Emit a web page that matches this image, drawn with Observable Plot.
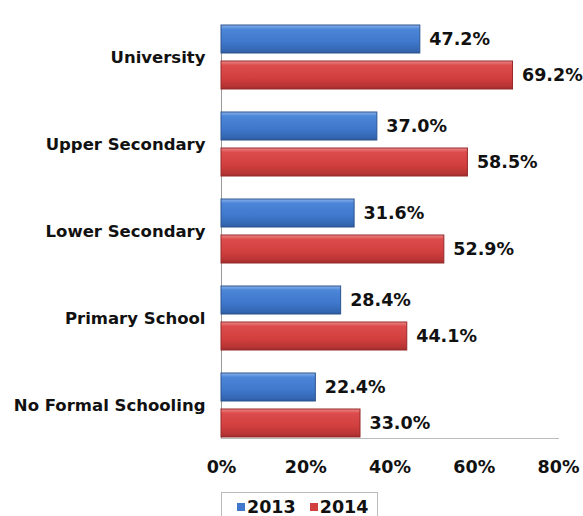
<!DOCTYPE html>
<html>
<head>
<meta charset="utf-8">
<script src="https://cdn.jsdelivr.net/npm/d3@7"></script>
<script src="https://cdn.jsdelivr.net/npm/@observablehq/plot@0.6"></script>
<style>
  html, body { margin: 0; padding: 0; background: #fff; }
  #wrap { position: relative; width: 583px; height: 516px; overflow: hidden; font-family: "DejaVu Sans", Verdana, sans-serif; }
  #legend { position: absolute; left: 221px; top: 492px; width: 157px; height: 30px; border: 1px solid #bbb; box-sizing: border-box; font-weight: bold; font-size: 17.5px; display: flex; align-items: center; padding-left: 15px; gap: 14px; color: #111; }
  .sw { display: inline-block; width: 8px; height: 8px; margin-right: 2px; vertical-align: middle; position: relative; top: -1px; }
</style>
</head>
<body>
<div id="wrap">
  <div id="chart"></div>
  <div id="legend"></div>
</div>
<script>
const categories = ["University", "Upper Secondary", "Lower Secondary", "Primary School", "No Formal Schooling"];
const years = ["2013", "2014"];
const values2013 = [47.2, 37.0, 31.6, 28.4, 22.4];
const values2014 = [69.2, 58.5, 52.9, 44.1, 33.0];
const xTicks = [0, 20, 40, 60, 80];
const colors = { "2013": "#3f78cc", "2014": "#d23f3f" };
const strokeColors = { "2013": "#2c5590", "2014": "#962a2a" };

const data = [];
categories.forEach((c, i) => {
  data.push({ category: c, year: "2013", value: values2013[i] });
  data.push({ category: c, year: "2014", value: values2014[i] });
});

const font = "DejaVu Sans, Verdana, sans-serif";

const chart = Plot.plot({
  width: 583,
  height: 492,
  marginLeft: 221,
  marginRight: 25,
  marginTop: 14,
  marginBottom: 42,
  style: { fontFamily: font, background: "transparent" },
  x: { domain: [0, 80], ticks: xTicks, axis: null },
  fy: { domain: categories, paddingInner: 0.25, paddingOuter: 0.125, label: null, axis: null },
  y: { domain: years, paddingInner: 0.22, paddingOuter: 0, axis: null },
  marks: [
    Plot.axisFy({ anchor: "left", tickSize: 0, tickPadding: 16, fontSize: 16.5, fontWeight: "bold", fill: "#111", label: null }),
    Plot.frame({ anchor: "left", stroke: "#999", facet: "super" }),
    Plot.frame({ anchor: "bottom", stroke: "#bbb", facet: "super" }),
    Plot.barX(data, {
      fy: "category", y: "year", x: "value",
      fill: d => d.year === "2013" ? "url(#grad2013)" : "url(#grad2014)",
      stroke: d => strokeColors[d.year], strokeWidth: 1
    }),
    Plot.text(data, {
      fy: "category", y: "year", x: "value",
      text: d => d.value.toFixed(1) + "%",
      textAnchor: "start", dx: 9, fontSize: 17.5, fontWeight: "bold", fill: "#111"
    }),
    Plot.axisX({ ticks: xTicks, tickSize: 0, tickPadding: 22, fontSize: 17.5, fontWeight: "bold", fill: "#111", tickFormat: d => d + "%", label: null, facetAnchor: "bottom" }),
  ]
});

// gradients
const svgns = "http://www.w3.org/2000/svg";
const defs = document.createElementNS(svgns, "defs");
function grad(id, stops) {
  const g = document.createElementNS(svgns, "linearGradient");
  g.setAttribute("id", id);
  g.setAttribute("x1", "0"); g.setAttribute("y1", "0");
  g.setAttribute("x2", "0"); g.setAttribute("y2", "1");
  stops.forEach(([o, c]) => {
    const s = document.createElementNS(svgns, "stop");
    s.setAttribute("offset", o); s.setAttribute("stop-color", c);
    g.appendChild(s);
  });
  defs.appendChild(g);
}
grad("grad2013", [["0", "#8ab2ea"], ["0.15", "#4c86d8"], ["0.6", "#3f78cc"], ["0.9", "#3467b3"], ["1", "#2d5a9c"]]);
grad("grad2014", [["0", "#ec8a8a"], ["0.15", "#dc4c4c"], ["0.6", "#d23f3f"], ["0.9", "#b83434"], ["1", "#9c2c2c"]]);
chart.insertBefore(defs, chart.firstChild);

document.getElementById("chart").appendChild(chart);

const legend = document.getElementById("legend");
years.forEach(y => {
  const span = document.createElement("span");
  span.innerHTML = `<span class="sw" style="background:${colors[y]}"></span>${y}`;
  legend.appendChild(span);
});
</script>
</body>
</html>
